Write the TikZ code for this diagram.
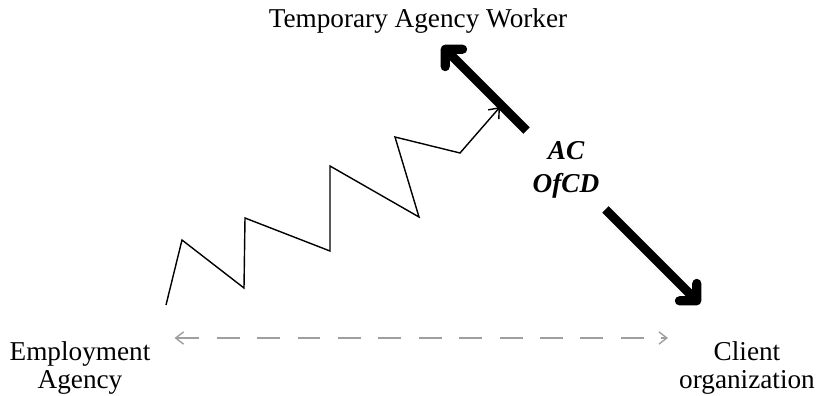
\documentclass[tikz,border=0pt]{standalone}
\usepackage{fontspec}
\setmainfont{Liberation Serif}
\usetikzlibrary{arrows.meta, positioning}

\begin{document}
\begin{tikzpicture}[
			x=0.02cm, y=-0.02cm,
			every node/.style={font=\fontsize{15.5pt}{16pt}\selectfont},
			party/.style={align=center},
			tag/.style={align=center, minimum width=1.5cm, minimum height=1.6cm,
				font=\fontsize{15.5pt}{18.5pt}\selectfont\bfseries\itshape},
			tie/.style={line width=5.2pt,
				-{Straight Barb[length=7pt, width=14pt, line cap=round, line join=round]}},
			zig/.style={line width=0.8pt, line join=miter,
				-{Straight Barb[length=5pt, width=8pt]}},
			link/.style={gray!75, line width=0.8pt, dash pattern=on 13pt off 10pt,
				{Straight Barb[length=4.5pt, width=7pt]}-{Straight Barb[length=4.5pt, width=7pt]}},
			]
			\useasboundingbox (0,0) rectangle (816,396);

			% Parties
			\node[party] (worker) at (418,21) {Temporary Agency Worker};
			\node[party] (agency) at (80,368) {Employment\\Agency};
			\node[party] (client) at (747,368) {Client\\organization};

			% Relation between worker and client
			\coordinate (wtip) at (442,46);
			\coordinate (ctip) at (700,304);
			\node[tag] (acd) at (566,170) {AC\\OfCD};
			\draw[tie] (acd) -- (wtip);
			\draw[tie] (acd) -- (ctip);

			% Path from the agency
			\coordinate (zs) at (166,305);
			\coordinate (zt) at (500,107);
			\draw[zig] (zs) -- (182,240) -- (244,288) -- (245,218) -- (330,251)
			-- (330,166) -- (419,217) -- (395,137) -- (460,153) -- (zt);

			% Agency and client
			\draw[link, shorten <=0.36cm, shorten >=0.1cm]
			([yshift=0.6cm]agency.east) -- ([yshift=0.6cm]client.west);
		\end{tikzpicture}
\end{document}
